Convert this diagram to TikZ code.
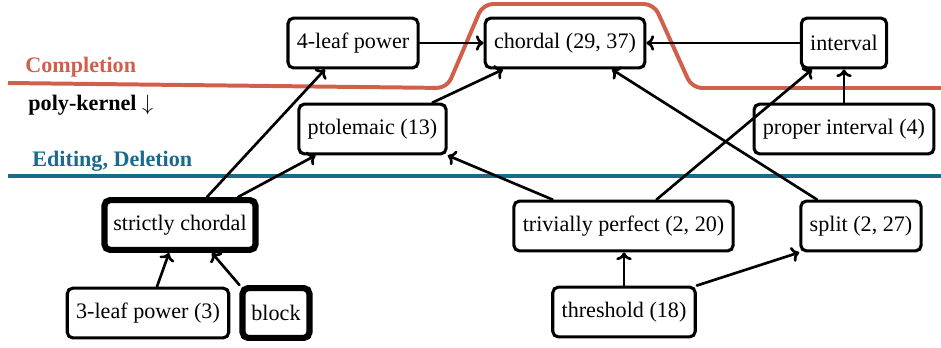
\documentclass[tikz,border=0pt]{standalone}
\usepackage{fontspec}
\setmainfont{Liberation Serif}
\usepackage{tikz}
\usetikzlibrary{calc,arrows.meta}
\definecolor{compl}{HTML}{D0604B}
\definecolor{edit}{HTML}{1B6A8C}
\tikzset{
  cls/.style={draw=black, rectangle, rounded corners=2.5pt, line width=1.4pt, inner xsep=4pt, minimum height=22.5pt},
  clsb/.style={cls, line width=2.8pt},
  incl/.style={draw=black, line width=1.2pt, line cap=round, -{To[length=3.5pt,width=7pt]}},
  bound/.style={line width=1.8pt, rounded corners=4.5pt},
  lbl/.style={font=\bfseries, anchor=base west, inner sep=0pt},
}

\begin{document}
\begin{tikzpicture}[x=0.452pt, y=-0.452pt]
  \useasboundingbox (0,0) rectangle (941,347);

  \draw[bound, draw=compl] (8,83) -- (447,88) -- (483,4) -- (654,4) -- (692,88) -- (941,88);
  \draw[bound, draw=edit] (8,176) -- (941,176);
  \node[lbl, text=compl] (complab) at (25,72) {Completion};
  \node[lbl] (polylab) at (28,110) {poly-kernel $\downarrow$};
  \node[lbl, text=edit] (editlab) at (32,166) {Editing, Deletion};

  \node[cls]  (fourleaf)  at (353,43)   {4-leaf power};
  \node[cls]  (chordal)   at (565,43)   {chordal (29, 37)};
  \node[cls]  (interval)  at (844,43)   {interval};
  \node[cls]  (ptolemaic) at (372.5,129) {ptolemaic (13)};
  \node[cls]  (propint)   at (844,129)  {proper interval (4)};
  \node[clsb] (strict)    at (180,225)  {strictly chordal};
  \node[cls]  (trivperf)  at (623.5,226) {trivially perfect (2, 20)};
  \node[cls]  (split)     at (861,226)  {split (2, 27)};
  \node[cls]  (threeleaf) at (148,313)  {3-leaf power (3)};
  \node[clsb] (block)     at (276,313)  {block};
  \node[cls]  (threshold) at (624,312)  {threshold (18)};

  \draw[incl] (fourleaf) -- (chordal);
  \draw[incl] (interval) -- (chordal);
  \draw[incl] (propint) -- (interval);
  \draw[incl] ($(ptolemaic.north)+(60,0)$) -- ($(chordal.south)+(-62,0)$);
  \draw[incl] ($(split.north)+(-44,0)$) -- ($(chordal.south)+(47,0)$);
  \draw[incl] ($(strict.north)+(27,0)$) -- ($(fourleaf.south)+(-28,0)$);
  \draw[incl] ($(strict.north)+(58,0)$) -- ($(ptolemaic.south)+(-57,0)$);
  \draw[incl] ($(trivperf.north)+(-71,0)$) -- (ptolemaic.south east);
  \draw[incl] ($(trivperf.north)+(33,0)$) -- ($(interval.south)+(-32,0)$);
  \draw[incl] ($(threeleaf.north)+(9,0)$) -- ($(strict.south)+(-11,0)$);
  \draw[incl] (block.north west) -- ($(strict.south)+(32,0)$);
  \draw[incl] (threshold) -- (threshold |- trivperf.south);
  \draw[incl] (threshold.north east) -- (split.south west);
\end{tikzpicture}
\end{document}
